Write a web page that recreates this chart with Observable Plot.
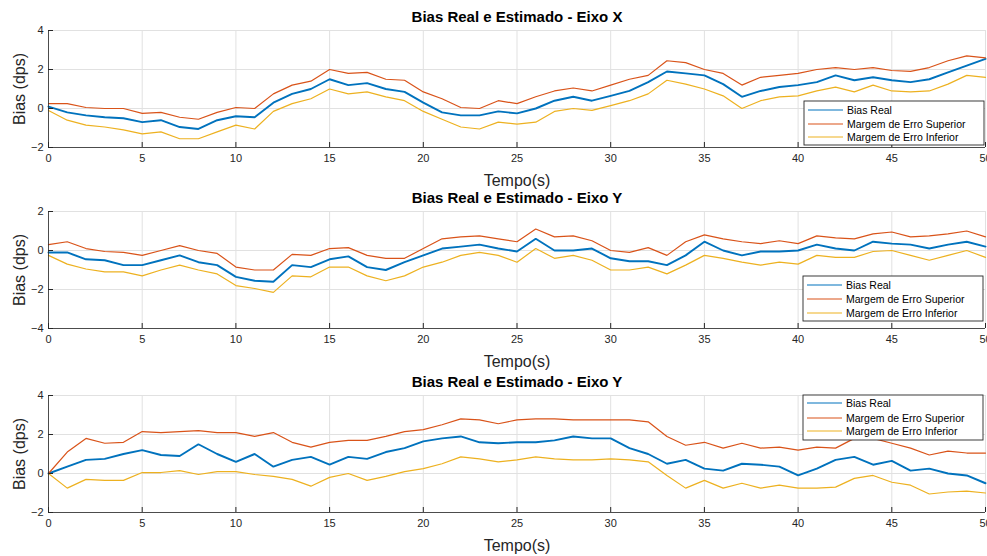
<!DOCTYPE html>
<html><head><meta charset="utf-8">
<script src="https://cdn.jsdelivr.net/npm/d3@7"></script>
<script src="https://cdn.jsdelivr.net/npm/@observablehq/plot@0.6"></script>
<style>
html,body{margin:0;padding:0;background:#fff;overflow:hidden;}
#fig{position:relative;width:987px;height:556px;overflow:hidden;background:#fff;}
#fig svg{position:absolute;left:0;}
</style></head><body><div id="fig"></div>
<script>
const tempo = [0,1,2,3,4,5,6,7,8,9,10,11,12,13,14,15,16,17,18,19,20,21,22,23,24,25,26,27,28,29,30,31,32,33,34,35,36,37,38,39,40,41,42,43,44,45,46,47,48,49,50];
const xTicks = [0,5,10,15,20,25,30,35,40,45,50];
const seriesNames = ["Bias Real", "Margem de Erro Superior", "Margem de Erro Inferior"];
const seriesColors = ["#0072BD", "#D95319", "#EDB120"];

// Eixo X
const xReal = [0.1,-0.2,-0.35,-0.45,-0.5,-0.7,-0.6,-0.95,-1.05,-0.6,-0.4,-0.45,0.3,0.75,1.0,1.5,1.2,1.3,1.0,0.85,0.3,-0.2,-0.35,-0.35,-0.15,-0.25,0,0.4,0.6,0.4,0.65,0.9,1.35,1.9,1.8,1.7,1.25,0.6,0.9,1.1,1.2,1.35,1.7,1.45,1.6,1.45,1.35,1.5,1.85,2.2,2.55];
const xSup = [0.25,0.25,0.05,0,0,-0.25,-0.2,-0.45,-0.55,-0.2,0.05,0,0.75,1.2,1.4,2.0,1.8,1.85,1.5,1.45,0.85,0.5,0.05,0,0.4,0.25,0.6,0.9,1.05,0.9,1.2,1.5,1.7,2.45,2.35,2.0,1.8,1.2,1.6,1.7,1.8,2.0,2.1,2.0,2.1,1.95,1.9,2.1,2.45,2.7,2.6];
const xInf = [-0.1,-0.6,-0.85,-0.95,-1.1,-1.3,-1.2,-1.55,-1.55,-1.2,-0.85,-1.05,-0.15,0.25,0.5,1.0,0.75,0.85,0.6,0.4,-0.15,-0.55,-0.95,-1.05,-0.7,-0.8,-0.7,-0.15,0,-0.1,0.15,0.4,0.75,1.45,1.25,1.0,0.65,0,0.4,0.6,0.65,0.9,1.1,0.85,1.2,0.9,0.85,0.9,1.25,1.7,1.6];

// Eixo Y
const yReal = [-0.1,-0.1,-0.45,-0.5,-0.75,-0.75,-0.5,-0.25,-0.6,-0.75,-1.35,-1.55,-1.6,-0.75,-0.85,-0.45,-0.3,-0.85,-1.0,-0.6,-0.25,0.1,0.2,0.3,0.1,-0.05,0.6,0,0,0.1,-0.4,-0.55,-0.55,-0.75,-0.25,0.45,0,-0.25,-0.05,-0.05,0,0.3,0.1,0,0.45,0.35,0.3,0.1,0.3,0.45,0.2];
const ySup = [0.3,0.45,0.1,-0.05,-0.1,-0.25,0,0.25,0,-0.15,-0.85,-1.0,-1.0,-0.2,-0.25,0.1,0.15,-0.25,-0.4,-0.4,0.1,0.6,0.7,0.75,0.6,0.45,1.1,0.7,0.75,0.5,0,-0.1,0.15,-0.25,0.45,0.8,0.6,0.45,0.35,0.5,0.35,0.75,0.65,0.6,0.85,0.95,0.7,0.75,0.85,1.0,0.7];
const yInf = [-0.25,-0.7,-0.95,-1.1,-1.1,-1.3,-1.0,-0.75,-1.0,-1.2,-1.8,-1.95,-2.15,-1.3,-1.35,-0.85,-0.85,-1.3,-1.55,-1.3,-0.85,-0.6,-0.25,-0.1,-0.25,-0.6,0.1,-0.4,-0.25,-0.5,-1.0,-1.0,-0.85,-1.2,-0.75,-0.25,-0.4,-0.6,-0.75,-0.6,-0.7,-0.25,-0.35,-0.35,-0.05,0,-0.25,-0.5,-0.25,0,-0.35];

// terceiro painel
const zReal = [0,0.35,0.7,0.75,1.0,1.2,0.95,0.9,1.5,1.0,0.6,1.0,0.35,0.7,0.85,0.45,0.85,0.75,1.1,1.3,1.65,1.8,1.9,1.6,1.55,1.6,1.6,1.7,1.9,1.8,1.8,1.3,1.0,0.5,0.7,0.25,0.15,0.5,0.45,0.35,-0.1,0.25,0.7,0.85,0.45,0.65,0.15,0.25,0,-0.1,-0.5];
const zSup = [0,1.1,1.8,1.55,1.6,2.15,2.1,2.15,2.2,2.1,2.1,1.9,2.1,1.6,1.35,1.6,1.7,1.7,1.9,2.15,2.25,2.5,2.8,2.75,2.55,2.75,2.8,2.8,2.75,2.75,2.75,2.75,2.65,1.9,1.45,1.6,1.3,1.55,1.3,1.35,1.2,1.35,1.3,1.8,1.8,1.55,1.3,0.95,1.15,1.05,1.05];
const zInf = [0,-0.75,-0.3,-0.35,-0.35,0.05,0.05,0.15,-0.05,0.1,0.1,-0.05,-0.15,-0.3,-0.65,-0.2,0,-0.35,-0.15,0.1,0.25,0.5,0.85,0.75,0.6,0.7,0.85,0.75,0.7,0.7,0.75,0.7,0.6,-0.1,-0.75,-0.35,-0.75,-0.5,-0.75,-0.6,-0.75,-0.75,-0.7,-0.25,-0.1,-0.45,-0.6,-1.05,-0.95,-0.9,-1.0];

const panels = [
  {title: "Bias Real e Estimado - Eixo X", series: [xReal, xSup, xInf], domain: [-2, 4], ticks: [-2, 0, 2, 4], top: 0, legend: {x: 804, y: 101, h: 44, rows: [9, 23, 36]}},
  {title: "Bias Real e Estimado - Eixo Y", series: [yReal, ySup, yInf], domain: [-4, 2], ticks: [-4, -2, 0, 2], top: 181, legend: {x: 803, y: 95, h: 45, rows: [9, 23, 37]}},
  {title: "Bias Real e Estimado - Eixo Y", series: [zReal, zSup, zInf], domain: [-2, 4], ticks: [-2, 0, 2, 4], top: 365, legend: {x: 803, y: 30, h: 45, rows: [8, 23, 36]}}
];

const FONT = "'Liberation Sans', Arial, Helvetica, sans-serif";
const AX = "#262626";
const GRID = "#e1e1e1";
const fig = document.getElementById("fig");

for (const p of panels) {
  const lines = p.series.map((vals, i) =>
    Plot.line(tempo, {x: tempo, y: vals, stroke: seriesColors[i], strokeWidth: i === 0 ? 1.9 : 1.2, strokeLinejoin: "miter"})
  );
  const chart = Plot.plot({
    width: 987, height: 185,
    marginLeft: 48, marginRight: 2, marginTop: 30, marginBottom: 38,
    style: {fontFamily: FONT, fontSize: "11px", color: AX, background: "transparent", overflow: "visible"},
    x: {domain: [0, 50]},
    y: {domain: p.domain},
    marks: [
      Plot.gridX(xTicks, {stroke: GRID, strokeOpacity: 1}),
      Plot.gridY(p.ticks, {stroke: GRID, strokeOpacity: 1}),
      ...lines,
      Plot.ruleX([0], {stroke: AX, strokeWidth: 0.8}),
      Plot.ruleY([p.domain[0]], {stroke: AX, strokeWidth: 0.8}),
      Plot.axisX(xTicks, {tickSize: -5, tickPadding: 12, label: null, stroke: AX, fontSize: 11}),
      Plot.axisY(p.ticks, {tickSize: -5, tickPadding: 10, label: null, stroke: AX, fontSize: 11}),
      Plot.text([p.title], {frameAnchor: "top", dy: -13, lineAnchor: "middle", fontWeight: "bold", fontSize: 15, fill: "#000"}),
      Plot.text(["Tempo(s)"], {frameAnchor: "bottom", dy: 33, lineAnchor: "middle", fontSize: 16, fill: AX}),
      Plot.text(["Bias (dps)"], {frameAnchor: "left", dx: -29, rotate: -90, textAnchor: "middle", lineAnchor: "middle", fontSize: 16, fill: AX})
    ]
  });
  chart.style.top = p.top + "px";
  const svg = d3.select(chart);
  const L = p.legend;
  const g = svg.append("g").attr("transform", `translate(${L.x},${L.y})`).attr("font-family", FONT).attr("font-size", 10.5).attr("text-anchor", "start");
  g.append("rect").attr("width", 180).attr("height", L.h).attr("fill", "#fff").attr("stroke", AX).attr("stroke-width", 0.9);
  seriesNames.forEach((name, i) => {
    g.append("line").attr("x1", 4).attr("x2", 39).attr("y1", L.rows[i]).attr("y2", L.rows[i]).attr("stroke", seriesColors[i]).attr("stroke-width", 1.1);
    g.append("text").attr("x", 43).attr("y", L.rows[i]).attr("dy", "0.35em").attr("text-anchor", "start").attr("fill", "#000").text(name);
  });
  fig.appendChild(chart);
}
</script>
</body></html>
